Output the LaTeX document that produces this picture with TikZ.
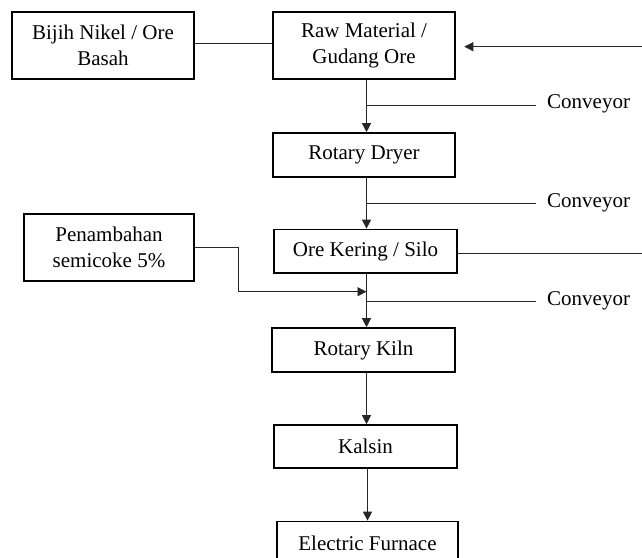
\documentclass[tikz,border=0pt]{standalone}
\usepackage{fontspec}
\setmainfont{Liberation Serif}
\usetikzlibrary{arrows.meta}
\begin{document}
\begin{tikzpicture}[x=1pt,y=-1pt,
  box/.style={draw=black,line width=1.6pt,inner sep=0pt,align=center,
    font=\fontsize{21}{26.5}\selectfont},
  conn/.style={draw=black!85,line width=0.9pt},
  arr/.style={conn,-{Triangle[width=9pt,length=9pt]}},
  lbl/.style={anchor=base west,inner sep=0pt,font=\fontsize{21}{26.5}\selectfont}]
\useasboundingbox (0,0) rectangle (642,557);
\clip (0,0) rectangle (642,557);
\fill[white] (0,0) rectangle (642,557);
% nodes
\node[box,minimum width=182pt,minimum height=67pt] (bijih) at (103,45.5) {Bijih Nikel / Ore\\Basah};
\node[box,minimum width=182pt,minimum height=67pt] (raw) at (364,45.5) {Raw Material /\\Gudang Ore};
\node[box,minimum width=182pt,minimum height=44pt] (dryer) at (364,155) {Rotary Dryer};
\node[box,minimum width=183pt,minimum height=43.5pt] (silo) at (365.5,251.2) {Ore Kering / Silo};
\node[box,minimum width=170pt,minimum height=67pt] (semi) at (109,247.5) {Penambahan\\semicoke 5\%};
\node[box,minimum width=183pt,minimum height=44pt] (kiln) at (363.5,350) {Rotary Kiln};
\node[box,minimum width=183pt,minimum height=43pt] (kalsin) at (365.5,446.5) {Kalsin};
\node[box,minimum width=181pt,minimum height=43.5pt] (furnace) at (367.5,543.2) {Electric Furnace};
% helper coordinates
\coordinate (sp) at (366.5,0);
\coordinate (sp2) at (367.5,0);
\coordinate (inret) at (642,46.7);
\coordinate (outsilo) at (642,253.5);
\coordinate (c1s) at (366.5,105);   \coordinate (c1e) at (536,105);
\coordinate (c2s) at (366.5,203.5); \coordinate (c2e) at (536,203.5);
\coordinate (c3s) at (366.5,301.7); \coordinate (c3e) at (536,301.7);
\coordinate (bendx) at (238.7,0);
\coordinate (joinp) at (366.5,291.7);
% connectors
\draw[conn] ([yshift=2pt]bijih.east) -- ([yshift=2pt]raw.west);
\draw[arr] (inret) -- ([xshift=8.5pt]raw.east |- inret);
\draw[arr] (raw.south -| sp) -- (dryer.north -| sp);
\draw[arr] (dryer.south -| sp) -- (silo.north -| sp);
\draw[arr] (silo.south -| sp) -- (kiln.north -| sp);
\draw[arr] (kiln.south -| sp) -- (kalsin.north -| sp);
\draw[arr] (kalsin.south -| sp2) -- (furnace.north -| sp2);
\draw[conn] (silo.east |- outsilo) -- (outsilo);
\draw[arr] (semi.east) -| (bendx |- joinp) -- (joinp);
\draw[conn] (c1s) -- (c1e);
\draw[conn] (c2s) -- (c2e);
\draw[conn] (c3s) -- (c3e);
\node[lbl] (l1) at (547,108.5) {Conveyor};
\node[lbl] (l2) at (547,207) {Conveyor};
\node[lbl] (l3) at (547,305.2) {Conveyor};
\end{tikzpicture}
\end{document}
